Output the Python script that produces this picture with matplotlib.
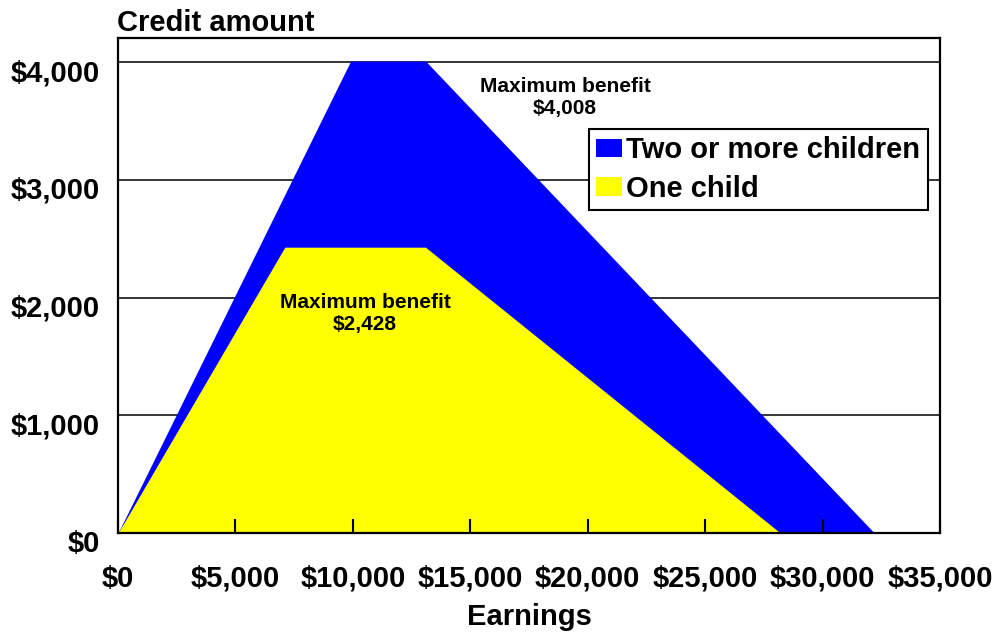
import matplotlib.pyplot as plt
import matplotlib.transforms as mtransforms

plt.rcParams['font.family'] = ['Liberation Sans', 'DejaVu Sans']
plt.rcParams['font.weight'] = 'bold'

# credit schedules (earnings breakpoints and credit amounts)
two_kids_x = [0, 9900, 13100, 32200]
two_kids_y = [0, 4008, 4008, 0]
one_kid_x = [0, 7100, 13090, 28200]
one_kid_y = [0, 2428, 2428, 0]

xticks = [0, 5000, 10000, 15000, 20000, 25000, 30000, 35000]
yticks = [0, 1000, 2000, 3000, 4000]

fig = plt.figure(figsize=(9.97, 6.34), dpi=100)
ax = fig.add_axes([0.1184, 0.1593, 0.8245, 0.7808])

ax.fill_between(two_kids_x, two_kids_y, color='#0000ff', lw=0, label='Two or more children', zorder=0.5)
ax.fill_between(one_kid_x, one_kid_y, color='#ffff00', lw=0, label='One child', zorder=0.6)

ax.set_xlim(0, 35000)
ax.set_ylim(0, 4205)
ax.set_xticks(xticks)
ax.set_xticklabels(['${:,}'.format(v) for v in xticks])
ax.set_yticks(yticks)
ax.set_yticklabels(['${:,}'.format(v) for v in yticks])

for y in yticks[1:]:
    ax.axhline(y, color='black', lw=1.1, zorder=0.3)

ax.tick_params(axis='x', direction='in', length=10, width=1.5, pad=23, labelsize=21)
ax.tick_params(axis='y', length=0, pad=13, labelsize=21)
off = mtransforms.ScaledTranslation(0, -8 / 100, fig.dpi_scale_trans)
for lab in ax.get_yticklabels():
    lab.set_transform(lab.get_transform() + off)

for s in ax.spines.values():
    s.set_linewidth(1.6)
    s.set_zorder(5)

ax.set_xlabel('Earnings', fontsize=21, fontweight='bold', labelpad=7)
fig.text(0.117, 1 - 23 / 634, 'Credit amount', fontsize=21, fontweight='bold', va='center', ha='left')

ax.text(19030, 3700, 'Maximum benefit\n$4,008', fontsize=15, fontweight='bold',
        ha='center', va='center', linespacing=1.2, zorder=6)
ax.text(10520, 1868, 'Maximum benefit\n$2,428', fontsize=15, fontweight='bold',
        ha='center', va='center', linespacing=1.2, zorder=6)

leg = ax.legend(loc='upper right', bbox_to_anchor=(0.985, 0.816), fontsize=21,
                fancybox=False, framealpha=1, edgecolor='black', handlelength=0.9,
                handleheight=0.6, handletextpad=0.15, labelspacing=0.35,
                borderpad=0.25, borderaxespad=0)
leg.get_frame().set_linewidth(1.5)
leg.set_zorder(7)

fig.savefig('out.png', dpi=100)
